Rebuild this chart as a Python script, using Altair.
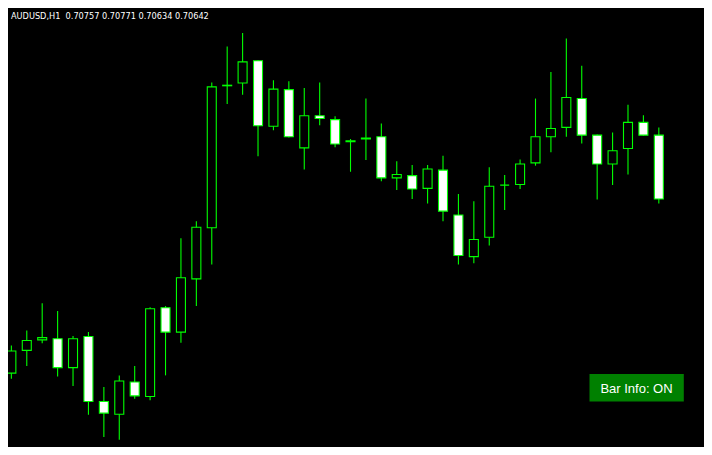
import altair as alt
import pandas as pd

symbol = "AUDUSD,H1"

opens = [0.70328, 0.70369, 0.70388, 0.70390, 0.70338, 0.70394, 0.70277, 0.70254, 0.70312, 0.70286,
         0.70446, 0.70402, 0.70498, 0.70590, 0.70846, 0.70851, 0.70891, 0.70773, 0.70839, 0.70734,
         0.70792, 0.70785, 0.70745, 0.70750, 0.70754, 0.70680, 0.70684, 0.70661, 0.70694, 0.70613,
         0.70538, 0.70573, 0.70667, 0.70668, 0.70707, 0.70754, 0.70771, 0.70823, 0.70757, 0.70705,
         0.70733, 0.70780, 0.70757]
highs = [0.70378, 0.70405, 0.70454, 0.70440, 0.70395, 0.70402, 0.70303, 0.70324, 0.70341, 0.70447,
         0.70449, 0.70571, 0.70602, 0.70852, 0.70917, 0.70941, 0.70892, 0.70856, 0.70854, 0.70842,
         0.70852, 0.70791, 0.70750, 0.70823, 0.70778, 0.70710, 0.70703, 0.70703, 0.70720, 0.70651,
         0.70638, 0.70699, 0.70685, 0.70713, 0.70823, 0.70871, 0.70931, 0.70882, 0.70758, 0.70762,
         0.70812, 0.70793, 0.70771]
lows = [0.70318, 0.70341, 0.70382, 0.70322, 0.70305, 0.70253, 0.70213, 0.70208, 0.70282, 0.70279,
        0.70324, 0.70383, 0.70449, 0.70524, 0.70813, 0.70830, 0.70719, 0.70766, 0.70753, 0.70695,
        0.70775, 0.70735, 0.70691, 0.70712, 0.70674, 0.70658, 0.70642, 0.70634, 0.70602, 0.70524,
        0.70526, 0.70558, 0.70622, 0.70660, 0.70702, 0.70726, 0.70754, 0.70742, 0.70641, 0.70667,
        0.70686, 0.70756, 0.70634]
closes = [0.70368, 0.70387, 0.70392, 0.70338, 0.70390, 0.70277, 0.70256, 0.70314, 0.70287, 0.70444,
          0.70402, 0.70500, 0.70591, 0.70844, 0.70847, 0.70889, 0.70774, 0.70840, 0.70754, 0.70792,
          0.70787, 0.70741, 0.70747, 0.70752, 0.70680, 0.70686, 0.70660, 0.70696, 0.70620, 0.70540,
          0.70569, 0.70665, 0.70667, 0.70705, 0.70754, 0.70769, 0.70825, 0.70757, 0.70705, 0.70729,
          0.70780, 0.70757, 0.70642]

button_label = "Bar Info: ON"

df = pd.DataFrame({
    "i": list(range(len(opens))),
    "open": opens,
    "high": highs,
    "low": lows,
    "close": closes,
})
df["dir"] = ["down" if c < o else "up" for o, c in zip(opens, closes)]

W, H = 696, 439
LIME = "#00ff00"

xs = alt.Scale(domain=[0.106, 44.606], nice=False, zero=False)
ys = alt.Scale(domain=[0.701949, 0.709862], nice=False, zero=False)

base = alt.Chart(df)

wicks = base.mark_rule(color=LIME, strokeWidth=1.1, clip=True).encode(
    x=alt.X("i:Q", scale=xs, axis=None),
    y=alt.Y("low:Q", scale=ys, axis=None),
    y2="high:Q",
)

bodies = base.mark_bar(size=9, stroke=LIME, strokeWidth=1.1, clip=True).encode(
    x=alt.X("i:Q", scale=xs, axis=None),
    y=alt.Y("open:Q", scale=ys, axis=None),
    y2="close:Q",
    fill=alt.Fill("dir:N", scale=alt.Scale(domain=["down", "up"], range=["#ffffff", "#000000"]), legend=None),
)

last = df.iloc[-1]
header = "{}\u00a0\u00a0{:.5f} {:.5f} {:.5f} {:.5f}".format(
    symbol, last["open"], last["high"], last["low"], last["close"])

header_df = pd.DataFrame({"t": [header]})
header_text = alt.Chart(header_df).mark_text(
    align="left", baseline="alphabetic", color="#ffffff",
    font="DejaVu Sans", fontSize=8.2,
).encode(x=alt.value(3), y=alt.value(10.8), text="t:N")

btn_df = pd.DataFrame({"t": [button_label]})
btn_rect = alt.Chart(btn_df).mark_rect(color="#008000").encode(
    x=alt.value(581.5), x2=alt.value(675.8), y=alt.value(366.1), y2=alt.value(393.6)
)
btn_text = alt.Chart(btn_df).mark_text(
    align="center", baseline="middle", color="#ffffff",
    font="Liberation Sans", fontSize=13,
).encode(x=alt.value(628.5), y=alt.value(380.5), text="t:N")

chart = alt.layer(wicks, bodies, header_text, btn_rect, btn_text).properties(
    width=W, height=H, background="#000000",
    autosize=alt.AutoSizeParams(type="none"), padding=0,
).configure_view(strokeWidth=0)

chart.save("out.html", embed_options={"renderer": "svg", "actions": False})
